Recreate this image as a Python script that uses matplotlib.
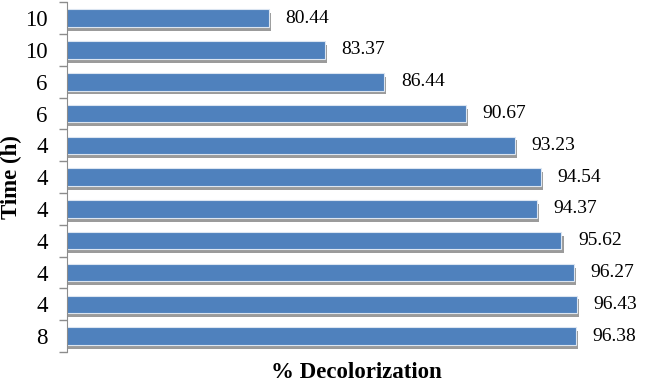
import numpy as np
import matplotlib.pyplot as plt
import matplotlib.patheffects as pe

# datos (de arriba hacia abajo)
tiempo = ["10", "10", "6", "6", "4", "4", "4", "4", "4", "4", "8"]
decoloracion = [80.44, 83.37, 86.44, 90.67, 93.23, 94.54, 94.37, 95.62, 96.27, 96.43, 96.38]

plt.rcParams['font.family'] = ['Liberation Serif', 'DejaVu Serif']

fig = plt.figure(figsize=(6.46, 3.83), dpi=100)
ax = fig.add_axes([0.104, 0.081, 0.896, 0.913])

y = np.arange(len(tiempo))
sombra = [pe.SimplePatchShadow(offset=(1.5, -2.8), shadow_rgbFace='#9b9b9b', alpha=1.0),
          pe.Normal()]
barras = ax.barh(y, decoloracion, height=0.55, color='#4f81bd',
                 edgecolor='#dbe5f1', linewidth=0.8, left=0)
for b in barras:
    b.set_path_effects(sombra)

for yi, v in zip(y, decoloracion):
    ax.text(v + 0.85, yi, "{:.2f}".format(v), va='center', ha='left', fontsize=14)

ax.set_xlim(70, 100)
ax.set_ylim(len(tiempo) - 0.5, -0.5)

# marcas entre categorias, etiquetas al centro
ax.set_yticks(np.arange(-0.5, len(tiempo), 1.0))
ax.set_yticklabels([])
ax.set_yticks(y, minor=True)
ax.set_yticklabels(tiempo, minor=True, fontsize=16.5)
ax.tick_params(axis='y', which='major', length=6, color='#8c8c8c', width=1)
ax.tick_params(axis='y', which='minor', length=0, pad=14)
ax.set_xticks([])

for s in ['top', 'right', 'bottom']:
    ax.spines[s].set_visible(False)
ax.spines['left'].set_color('#8c8c8c')

ax.set_xlabel("% Decolorization", fontsize=16.5, fontweight='bold', labelpad=7)
ax.set_ylabel("Time (h)", fontsize=16.5, fontweight='bold', labelpad=2)

fig.savefig("out.png", dpi=100)
